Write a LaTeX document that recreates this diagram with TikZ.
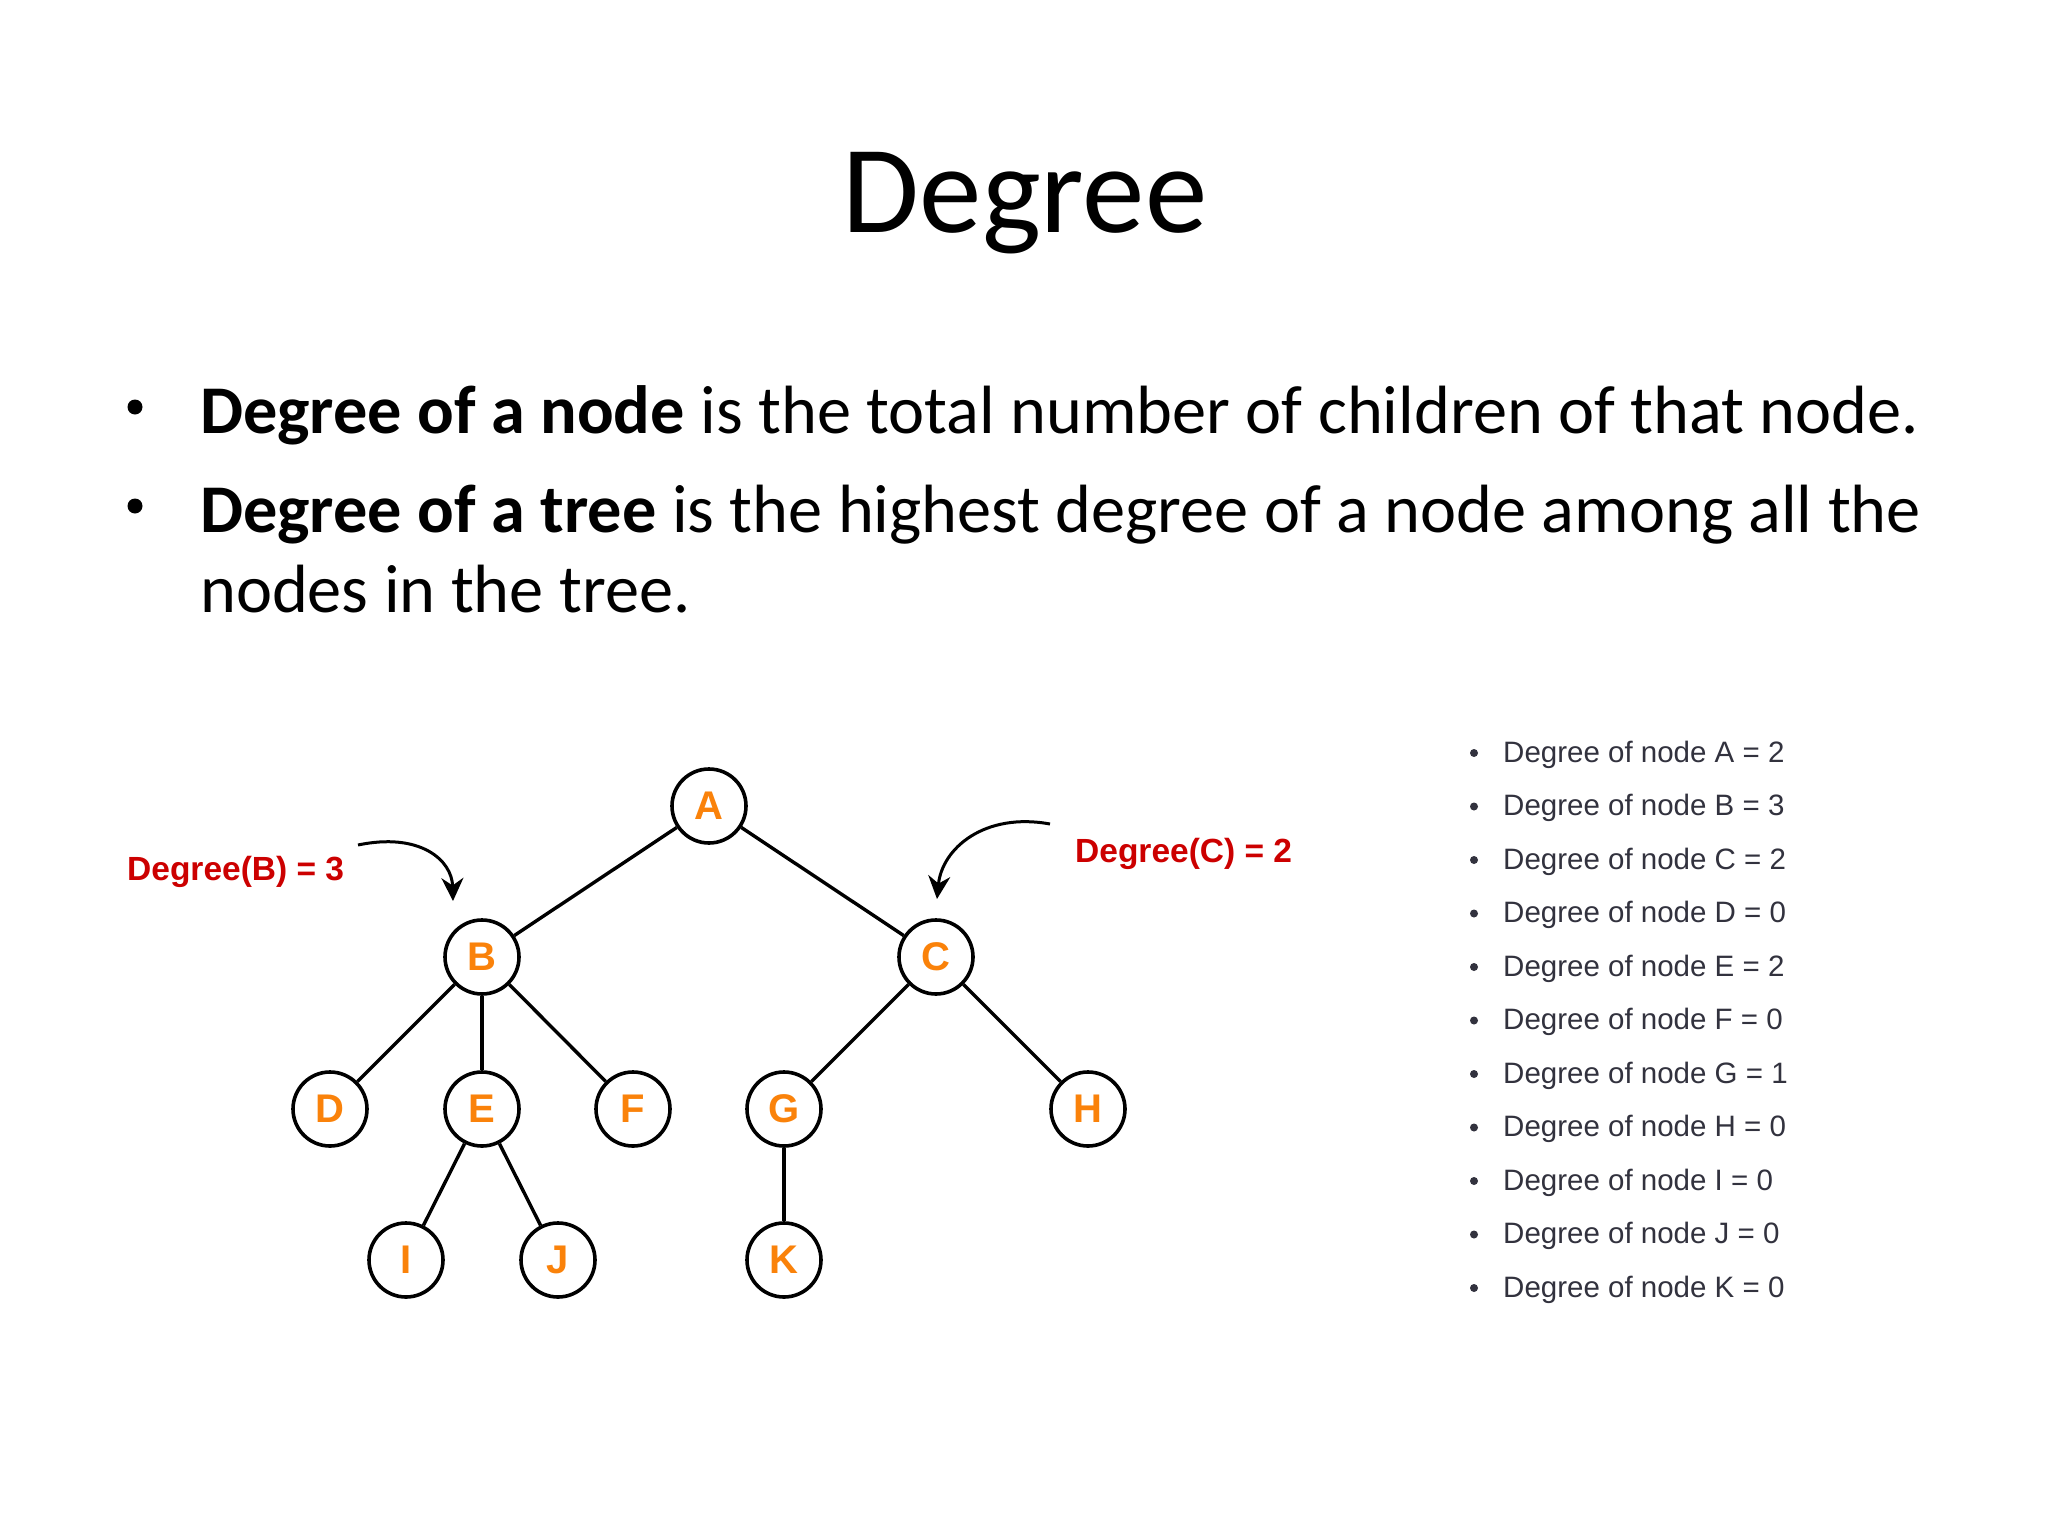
\documentclass[tikz,border=0pt]{standalone}
\usepackage{fontspec}
\setmainfont{Carlito}
\newfontfamily\arialfont{Liberation Sans}
\usetikzlibrary{arrows.meta}
\definecolor{nodeorange}{RGB}{250,130,10}
\definecolor{labelred}{RGB}{204,0,0}
\definecolor{listgray}{RGB}{50,50,62}
\begin{document}
\begin{tikzpicture}[x=1pt,y=-1pt,
  treenode/.style={circle,draw=black,line width=3.6pt,minimum size=74pt,inner sep=0pt,
    font=\arialfont\bfseries\fontsize{40}{42}\selectfont,text=nodeorange,fill=white},
  edge/.style={line width=3.4pt,black},
  redlabel/.style={anchor=base west,inner sep=0pt,text=labelred,
    font=\arialfont\bfseries\fontsize{33.5}{36}\selectfont},
  curvedarrow/.style={line width=3pt,-{Stealth[length=23pt,width=22pt]}},
  bodytext/.style={anchor=base west,inner sep=0pt,font=\fontsize{68.3}{80}\selectfont},
  listtext/.style={anchor=base west,inner sep=0pt,text=listgray,
    font=\arialfont\fontsize{29.5}{32}\selectfont},
  bulletdot/.style={fill=black}
]
\useasboundingbox[fill=white] (0,0) rectangle (2048,1536);

% title
\node[anchor=base,inner sep=0pt,font=\fontsize{125}{150}\selectfont] (title) at (1025,232) {Degree};

% bullets
\fill[bulletdot] (135,407) circle (7.5pt);
\fill[bulletdot] (135,506) circle (7.5pt);
\node[bodytext] (b1) at (200,433) {\textbf{Degree of a node} is the total number of children of that node.};
\node[bodytext] (b2) at (200,532) {\textbf{Degree of a tree} is the highest degree of a node among all the};
\node[bodytext] (b3) at (200,612) {nodes in the tree.};

% tree
\node[treenode] (A) at (709,806) {A};
\node[treenode] (B) at (482,957) {B};
\node[treenode] (C) at (936,957) {C};
\node[treenode] (D) at (330,1109) {D};
\node[treenode] (E) at (482,1109) {E};
\node[treenode] (F) at (633,1109) {F};
\node[treenode] (G) at (784,1109) {G};
\node[treenode] (H) at (1088,1109) {H};
\node[treenode] (I) at (406,1260) {I};
\node[treenode] (J) at (558,1260) {J};
\node[treenode] (K) at (784,1260) {K};
\draw[edge] (A) -- (B);
\draw[edge] (A) -- (C);
\draw[edge] (B) -- (D);
\draw[edge] (B) -- (E);
\draw[edge] (B) -- (F);
\draw[edge] (C) -- (G);
\draw[edge] (C) -- (H);
\draw[edge] (E) -- (I);
\draw[edge] (E) -- (J);
\draw[edge] (G) -- (K);

% red labels and arrows
\node[redlabel] (degB) at (127,880) {Degree(B) = 3};
\node[redlabel] (degC) at (1075,862) {Degree(C) = 2};
\coordinate (bs) at (358,845);
\coordinate (bt) at (453,901);
\coordinate (cs) at (1050,824);
\coordinate (ct) at (937,899);
\draw[curvedarrow] (bs) .. controls (420,832) and (452,860) .. (bt);
\draw[curvedarrow] (cs) .. controls (985,812) and (942,848) .. (ct);

% list
\foreach \l/\d [count=\i] in {A/2,B/3,C/2,D/0,E/2,F/0,G/1,H/0,I/0,J/0,K/0}{
  \fill[listgray] (1474,{753+53.5*(\i-1)}) circle (4pt);
  \node[listtext] (L\i) at (1503,{762+53.5*(\i-1)}) {Degree of node \l{} = \d};
}
\end{tikzpicture}
\end{document}
